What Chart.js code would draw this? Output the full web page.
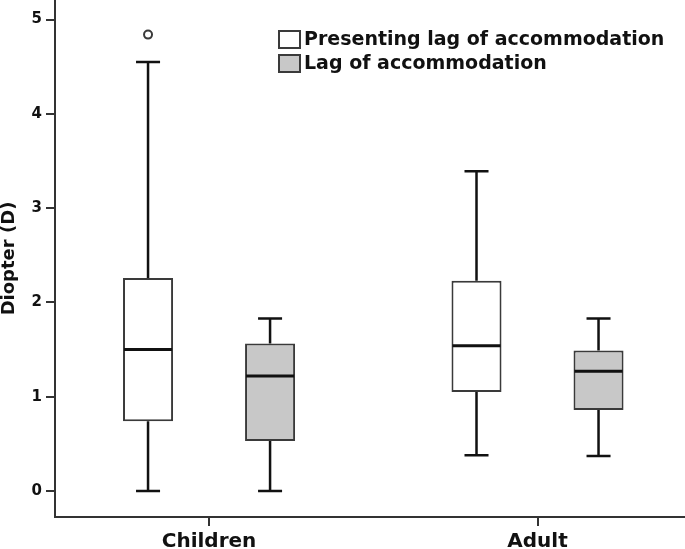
<!DOCTYPE html>
<html>
<head>
<meta charset="utf-8">
<script src="https://cdn.jsdelivr.net/npm/chart.js@4"></script>
<style>
  html, body { margin: 0; padding: 0; background: #fff; overflow: hidden; }
  #wrap { width: 685px; height: 549px; }
</style>
</head>
<body>
<div id="wrap"><canvas id="lagChart"></canvas></div>
<script>
const categories = ['Children', 'Adult'];
const seriesLabels = ['Presenting lag of accommodation', 'Lag of accommodation'];
const yTicks = [0, 1, 2, 3, 4, 5];

// Presenting lag of accommodation
const presentingMin = [0.00, 0.38];
const presentingQ1 = [0.74, 1.05];
const presentingMedian = [1.50, 1.54];
const presentingQ3 = [2.26, 2.23];
const presentingMax = [4.55, 3.39];
const presentingOutliers = [[4.84], []];

// Lag of accommodation
const lagMin = [0.00, 0.37];
const lagQ1 = [0.53, 0.86];
const lagMedian = [1.22, 1.27];
const lagQ3 = [1.565, 1.49];
const lagMax = [1.83, 1.83];
const lagOutliers = [[], []];

const boxStats = [
  { min: presentingMin, q1: presentingQ1, median: presentingMedian, q3: presentingQ3, max: presentingMax, outliers: presentingOutliers },
  { min: lagMin, q1: lagQ1, median: lagMedian, q3: lagQ3, max: lagMax, outliers: lagOutliers }
];

const fills = ['#ffffff', '#c8c8c8'];
const FONT = "'DejaVu Sans', sans-serif";
const INK = '#111';
const EDGE = '#3a3a3a';

// whiskers, medians and outliers on top of the floating bars
const whiskerPlugin = {
  id: 'whiskers',
  afterDatasetsDraw(chart) {
    const ctx = chart.ctx;
    const y = chart.scales.y;

    boxStats.forEach((s, d) => {
      const meta = chart.getDatasetMeta(d);

      meta.data.forEach((bar, i) => {
        const cx = bar.x;
        const half = bar.width / 2;
        const cap = bar.width * 0.24;

        ctx.save();
        ctx.strokeStyle = INK;
        ctx.lineWidth = 2.5;
        ctx.beginPath();
        ctx.moveTo(cx, y.getPixelForValue(s.q3[i]));
        ctx.lineTo(cx, y.getPixelForValue(s.max[i]));
        ctx.moveTo(cx, y.getPixelForValue(s.q1[i]));
        ctx.lineTo(cx, y.getPixelForValue(s.min[i]));
        ctx.moveTo(cx - cap, y.getPixelForValue(s.max[i]));
        ctx.lineTo(cx + cap, y.getPixelForValue(s.max[i]));
        ctx.moveTo(cx - cap, y.getPixelForValue(s.min[i]));
        ctx.lineTo(cx + cap, y.getPixelForValue(s.min[i]));
        ctx.stroke();

        ctx.lineWidth = 3;
        ctx.beginPath();
        ctx.moveTo(cx - half + 1, y.getPixelForValue(s.median[i]));
        ctx.lineTo(cx + half - 1, y.getPixelForValue(s.median[i]));
        ctx.stroke();

        ctx.lineWidth = 2;
        ctx.strokeStyle = EDGE;
        ctx.fillStyle = '#fff';
        s.outliers[i].forEach(v => {
          ctx.beginPath();
          ctx.arc(cx, y.getPixelForValue(v), 4, 0, Math.PI * 2);
          ctx.fill();
          ctx.stroke();
        });
        ctx.restore();
      });
    });
  }
};

// legend sitting inside the plot, top right
const boxLegend = {
  id: 'boxLegend',
  afterDraw(chart) {
    const ctx = chart.ctx;
    const rows = [31, 55];

    ctx.save();
    chart.data.datasets.forEach((ds, i) => {
      ctx.fillStyle = ds.backgroundColor;
      ctx.strokeStyle = EDGE;
      ctx.lineWidth = 2;
      ctx.fillRect(279, rows[i], 21, 17);
      ctx.strokeRect(279, rows[i], 21, 17);

      ctx.fillStyle = INK;
      ctx.font = 'bold 19px ' + FONT;
      ctx.textBaseline = 'middle';
      ctx.textAlign = 'left';
      ctx.fillText(ds.label, 304, rows[i] + 9);
    });
    ctx.restore();
  }
};

new Chart(document.getElementById('lagChart'), {
  type: 'bar',

  data: {
    datasets: seriesLabels.map((label, d) => ({
      label: label,
      data: categories.map((c, i) => ({ x: i, y: [boxStats[d].q1[i], boxStats[d].q3[i]] })),
      backgroundColor: fills[d],
      borderColor: EDGE,
      borderWidth: 2,
      borderSkipped: false,
      categoryPercentage: 0.743,
      barPercentage: 0.41
    }))
  },

  options: {
    responsive: true,
    maintainAspectRatio: false,
    animation: false,
    layout: { padding: 0 },

    scales: {
      x: {
        type: 'linear',
        offset: false,
        min: -0.469,
        max: 1.449,
        afterBuildTicks: s => { s.ticks = categories.map((c, i) => ({ value: i })); },
        ticks: {
          callback: v => categories[v],
          color: INK,
          font: { family: FONT, size: 20, weight: 'bold' },
          padding: 4,
          maxRotation: 0,
          autoSkip: false
        },
        grid: { offset: false, drawOnChartArea: false, tickLength: 9, color: '#333', lineWidth: 2 },
        border: { color: '#333', width: 2 },
        afterFit: s => { s.height = 32; s.paddingLeft = 0; s.paddingRight = 0; }
      },

      y: {
        min: -0.276,
        max: 5.207,
        afterBuildTicks: s => { s.ticks = yTicks.map(v => ({ value: v })); },
        ticks: {
          color: INK,
          font: { family: FONT, size: 15, weight: 'bold' },
          padding: 4
        },
        grid: { drawOnChartArea: false, tickLength: 9, color: '#333', lineWidth: 2 },
        border: { color: '#333', width: 2 },
        title: {
          display: true,
          text: 'Diopter (D)',
          color: INK,
          font: { family: FONT, size: 18, weight: 'bold', lineHeight: 1 },
          padding: { top: 0, bottom: 0 }
        },
        afterFit: s => { s.width = 55; s.paddingTop = 0; s.paddingBottom = 0; }
      }
    },

    plugins: {
      legend: { display: false },
      tooltip: { enabled: false }
    }
  },

  plugins: [whiskerPlugin, boxLegend]
});
</script>
</body>
</html>
